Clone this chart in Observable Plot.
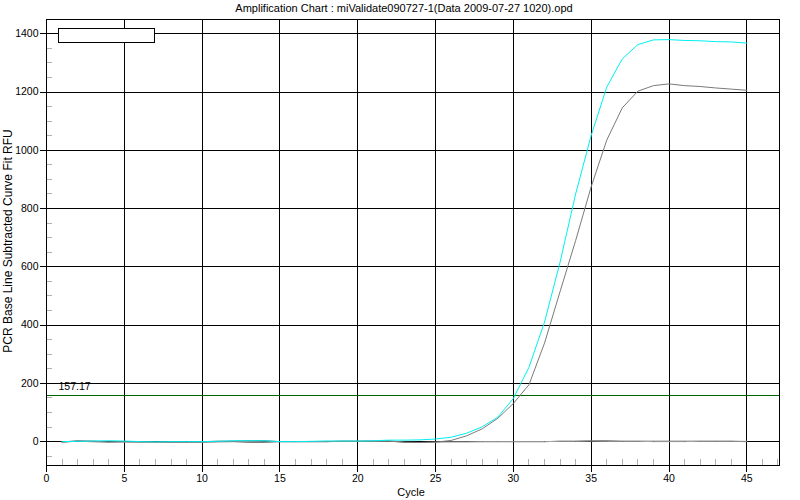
<!DOCTYPE html>
<html>
<head>
<meta charset="utf-8">
<script src="https://cdn.jsdelivr.net/npm/d3@7"></script>
<script src="https://cdn.jsdelivr.net/npm/@observablehq/plot@0.6"></script>
<style>
  body { margin: 0; background: #fff; }
  #wrap { position: relative; width: 800px; height: 500px; font-family: "Liberation Sans", Arial, sans-serif; color: #000; }
  #title { height: 17px; line-height: 17px; font-size: 11px; text-align: center; padding-left: 8px; }
  #legend { position: absolute; left: 58px; top: 28px; width: 95px; height: 13px; border: 1px solid #000; background: #fff; }
  .lab { position: absolute; white-space: nowrap; transform: translate(-50%, -50%); }
  #ylab { left: 8px; top: 241px; font-size: 12px; transform: translate(-50%, -50%) rotate(-90deg); }
  #xlab { left: 411px; top: 492px; font-size: 11px; }
</style>
</head>
<body>
<div id="wrap">
  <div id="title">Amplification Chart : miValidate090727-1(Data 2009-07-27 1020).opd</div>
  <div id="chart"></div>
  <div id="legend"></div>
  <div class="lab" id="ylab">PCR Base Line Subtracted Curve Fit RFU</div>
  <div class="lab" id="xlab">Cycle</div>
</div>
<script>
const cycles = [1,2,3,4,5,6,7,8,9,10,11,12,13,14,15,16,17,18,19,20,21,22,23,24,25,26,27,28,29,30,31,32,33,34,35,36,37,38,39,40,41,42,43,44,45];

const cyanRFU = [0,1,2,3,2,0,-1,0,0,0,1,3,3,3,0,0,1,2,2,2,3,5,5,6,9,15,29,51,84,148,255,410,616,850,1051,1217,1314,1363,1379,1380,1377,1376,1373,1372,1368];
const grayRFU = [-2,3,1,-1,0,-1,-1,-2,-2,-2,-1,0,-3,-3,0,0,0,0,1,1,2,2,-3,-3,-2,4,20,44,80,131,195,338,515,690,875,1035,1146,1203,1222,1228,1222,1219,1214,1210,1206];
const lightRFU = [-3,2,-1,-3,-2,-3,-3,-3,-3,-2,0,0,0,-1,0,0,0,1,1,1,1,2,-2,-3,-2,-1,-1,0,0,0,0,0,1,1,2,1,1,1,0,0,0,1,1,1,1];
const blackRFU = [0,1,1,0,0,-1,-1,0,0,0,1,1,2,2,0,0,0,0,1,1,1,1,0,0,0,0,0,0,0,0,0,0,1,1,2,2,1,1,1,1,1,1,1,1,0];

const xMajor = [0,5,10,15,20,25,30,35,40,45];
const xMinor = [1,2,3,4,6,7,8,9,11,12,13,14,16,17,18,19,21,22,23,24,26,27,28,29,31,32,33,34,36,37,38,39,41,42,43,44,46,47];
const yMajor = [0,200,400,600,800,1000,1200,1400];
const yMinor = [-50,50,100,150,250,300,350,450,500,550,650,700,750,850,900,950,1050,1100,1150,1250,1300,1350];
const threshold = 157.17;

const series = (vals, name) => cycles.map((c, i) => ({cycle: c, rfu: vals[i], name}));
const black = series(blackRFU, "black");
const light = series(lightRFU, "light");
const gray = series(grayRFU, "gray");
const cyan = series(cyanRFU, "cyan");

const crisp = "crispEdges";

const chart = Plot.plot({
  width: 800,
  height: 483,
  marginTop: 2,
  marginBottom: 35,
  marginLeft: 46,
  marginRight: 21,
  style: {fontFamily: "Liberation Sans, Arial, sans-serif", fontSize: "10.5px", color: "#000", background: "#fff"},
  x: {domain: [0, 47.1]},
  y: {domain: [-82, 1449]},
  marks: [
    Plot.gridX(xMajor, {stroke: "#000", strokeOpacity: 1, shapeRendering: crisp}),
    Plot.gridY(yMajor, {stroke: "#000", strokeOpacity: 1, shapeRendering: crisp}),
    Plot.axisX(xMinor, {tickSize: -6, stroke: "#b0b0b0", tickFormat: () => "", label: null, shapeRendering: crisp}),
    Plot.axisY(yMinor, {tickSize: -6, stroke: "#b0b0b0", tickFormat: () => "", label: null, shapeRendering: crisp}),
    Plot.axisX(xMajor, {tickSize: 7, tickPadding: 2, tickFormat: "d", label: null, fontSize: 10.5, shapeRendering: crisp}),
    Plot.axisY(yMajor, {tickSize: 6, tickPadding: 2, tickFormat: "d", label: null, fontSize: 10.5, shapeRendering: crisp}),
    Plot.ruleY([threshold], {stroke: "#006400", strokeWidth: 1, shapeRendering: crisp}),
    Plot.text([threshold], {x: 0, y: d => d, text: d => d.toFixed(2), dx: 12, dy: -9, textAnchor: "start", fontSize: 10.5, fill: "#000"}),
    Plot.line(black, {x: "cycle", y: "rfu", stroke: "#000", strokeWidth: 1}),
    Plot.line(light, {x: "cycle", y: "rfu", stroke: "#a8a8a8", strokeWidth: 1}),
    Plot.line(gray, {x: "cycle", y: "rfu", stroke: "#7a7a7a", strokeWidth: 1}),
    Plot.line(cyan, {x: "cycle", y: "rfu", stroke: "#00f0f0", strokeWidth: 1}),
    Plot.frame({stroke: "#000", shapeRendering: crisp})
  ]
});
document.getElementById("chart").appendChild(chart);
</script>
</body>
</html>
